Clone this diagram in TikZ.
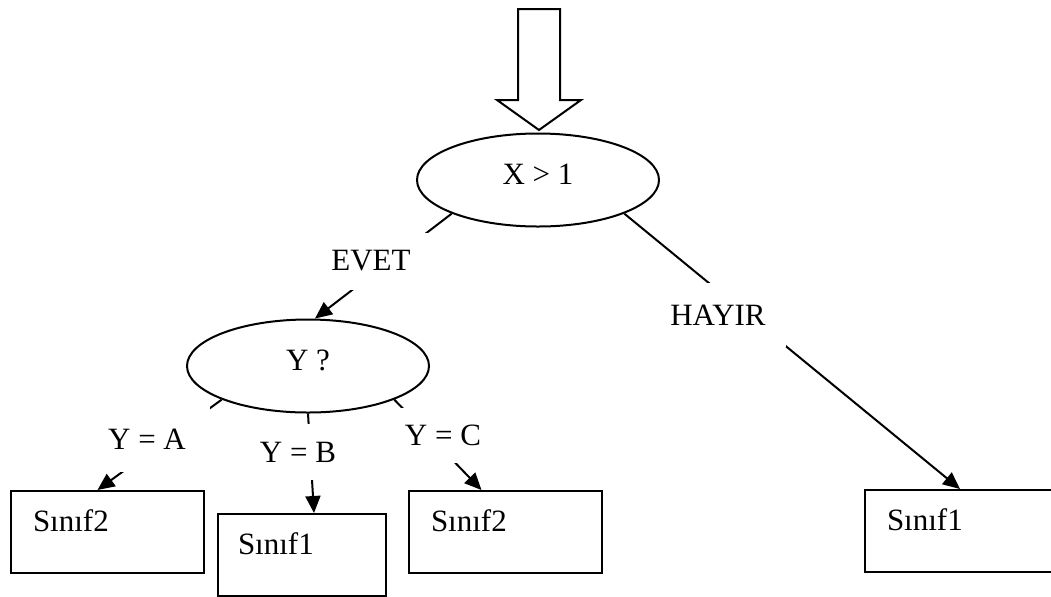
\documentclass[tikz,border=0pt]{standalone}
\usepackage{fontspec}
\setmainfont{Liberation Serif}
\usetikzlibrary{shapes.geometric, arrows.meta, positioning}
\tikzstyle{question} = [ellipse, line width=1pt, minimum width=121pt, minimum height=46.5pt, text depth=6pt, draw=black]
\tikzstyle{leaf} = [rectangle, line width=1pt, anchor=north west, align=left, inner xsep=11pt, inner ysep=0pt, text height=20pt, text depth=20.8pt, draw=black]
\tikzstyle{answer} = [rectangle, fill=white, inner sep=0pt]
\tikzstyle{arrow} = [line width=1pt, -{Triangle[length=8.5pt, width=7.5pt]}]

\begin{document}
\begin{tikzpicture}[x=0.5pt, y=-0.5pt, font=\fontsize{15.5}{18}\selectfont]
	\useasboundingbox (0,0) rectangle (1051,596);
	% big entry arrow on top
	\draw [line width=1pt] (518,9) -- (560,9) -- (560,100) -- (581,100) -- (539,130) -- (497,100) -- (518,100) -- cycle;
	\node (XTest) [question] at (538,180) {X > 1};
	\node (YTest) [question] at (308,366) {Y ?};
	\node (LeafA) [leaf, text width=74.5pt] at (10,490) {Sınıf2};
	\node (LeafB) [leaf, text width=64pt, inner xsep=10pt] at (217,513) {Sınıf1};
	\node (LeafC) [leaf, text width=74.5pt] at (408,490) {Sınıf2};
	\node (LeafNo) [leaf, text width=84pt] at (864,489) {Sınıf1};
	\draw [arrow] (XTest.south west) -- ([xshift=3.5pt]YTest.north);
	\draw [arrow] (XTest.south east) -- ([xshift=-5.5pt]LeafNo.north);
	\draw [arrow] (YTest.south west) -- ([xshift=-5pt]LeafA.north);
	\draw [arrow] (YTest.south) -- ([xshift=6pt]LeafB.north);
	\draw [arrow] (YTest.south east) -- ([xshift=-12pt]LeafC.north);
	% labels sit on white boxes over the lines
	\node (Evet) [answer, minimum width=59pt, minimum height=28.5pt] at (371,261) {EVET};
	\node (Hayir) [answer, minimum width=68pt, minimum height=32pt] at (718,315) {HAYIR};
	\node (YeqA) [answer, minimum width=63pt, minimum height=32.5pt] at (147,439) {Y = A};
	\node (YeqB) [answer, minimum width=45pt, minimum height=28pt] at (298,452) {Y = B};
	\node (YeqC) [answer, minimum width=44pt, minimum height=27.5pt] at (443,435) {Y = C};
\end{tikzpicture}
\end{document}
